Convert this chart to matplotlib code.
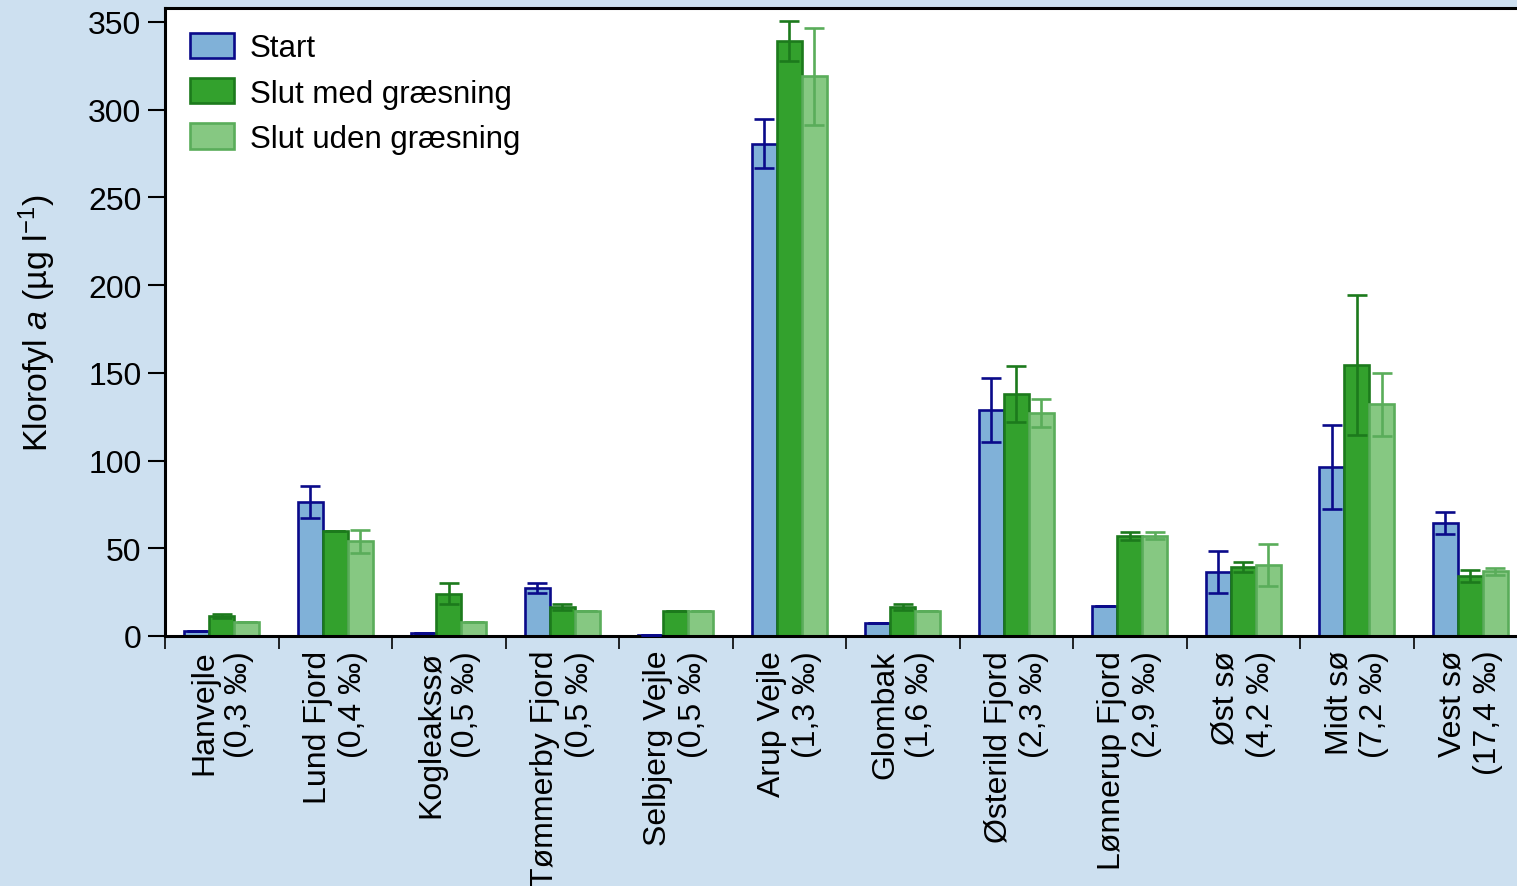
import numpy as np
import matplotlib.pyplot as plt
from matplotlib.patches import Patch

plt.rcParams['font.family'] = ['Liberation Sans', 'DejaVu Sans']
plt.rcParams['mathtext.fontset'] = 'custom'
plt.rcParams['mathtext.rm'] = 'Liberation Sans'
plt.rcParams['mathtext.it'] = 'Liberation Sans:italic'

# data
lakes = ["Hanvejle\n(0,3 ‰)", "Lund Fjord\n(0,4 ‰)", "Kogleakssø\n(0,5 ‰)",
         "Tømmerby Fjord\n(0,5 ‰)", "Selbjerg Vejle\n(0,5 ‰)", "Arup Vejle\n(1,3 ‰)",
         "Glombak\n(1,6 ‰)", "Østerild Fjord\n(2,3 ‰)", "Lønnerup Fjord\n(2,9 ‰)",
         "Øst sø\n(4,2 ‰)", "Midt sø\n(7,2 ‰)", "Vest sø\n(17,4 ‰)"]
start = [2.8, 76.4, 1.5, 27.4, 0.4, 280.5, 7.4, 128.8, 17.0, 36.5, 96.4, 64.4]
start_err = [0, 9, 0, 3, 0, 14, 0, 18, 0, 12, 24, 6.5]
med = [11.4, 60, 24, 16.5, 14.5, 339, 16.5, 138, 57, 39.3, 154.5, 34.2]
med_err = [1.2, 0, 6, 1.5, 0, 11.5, 1.5, 16, 2.5, 3, 40, 3.5]
uden = [8.0, 54, 8, 14.5, 14.5, 319, 14.5, 127, 57, 40.5, 132, 37]
uden_err = [0, 6.5, 0, 0, 0, 27.5, 0, 8, 2, 12, 18, 2]

bg = '#cde0f0'
fig = plt.figure(figsize=(15.17, 8.87), dpi=100, facecolor=bg)
ax = fig.add_axes([0.1088, 0.2819, 0.8978, 0.708])

x = np.arange(len(lakes))
w = 0.22
lw = 1.9
series = [
    (start, start_err, -w, '#80b1d8', '#0a0a8a', 'Start'),
    (med, med_err, 0, '#33a12d', '#1c7a1c', 'Slut med græsning'),
    (uden, uden_err, w, '#86c882', '#5aad5a', 'Slut uden græsning'),
]
handles = []
for vals, errs, off, fc, ec, lab in series:
    ax.bar(x + off, vals, w, color=fc, edgecolor=ec, linewidth=lw, zorder=2)
    ax.errorbar(x + off, vals, yerr=errs, fmt='none', ecolor=ec, elinewidth=lw,
                capsize=7, capthick=lw, zorder=3)
    handles.append(Patch(facecolor=fc, edgecolor=ec, linewidth=lw, label=lab))

ax.set_xlim(-0.5, len(lakes) - 0.5)
ax.set_ylim(0, 358)
ax.set_yticks(np.arange(0, 351, 50))
ax.tick_params(axis='y', length=12, width=1.5, labelsize=23, pad=5, direction='out')

ax.set_xticks(x)
ax.set_xticklabels(lakes, rotation=90, ha='center', va='top', multialignment='right', fontsize=23)
ax.tick_params(axis='x', which='major', length=0, pad=10)
ax.set_xticks(np.arange(-0.5, len(lakes)), minor=True)
ax.tick_params(axis='x', which='minor', length=9, width=1.2, direction='out')

for s in ['left', 'top', 'bottom']:
    ax.spines[s].set_linewidth(2.2)
ax.spines['right'].set_visible(False)

ax.set_ylabel('Klorofyl $a$ (µg l$^{-1}$)', fontsize=24.5, labelpad=22)

ax.legend(handles=handles, loc='upper left', frameon=False, fontsize=22.5,
          handlelength=1.42, handleheight=0.87, handletextpad=0.5, labelspacing=0.47,
          borderpad=0.45, borderaxespad=0.35)

fig.savefig('out.png', dpi=100, facecolor=bg)
